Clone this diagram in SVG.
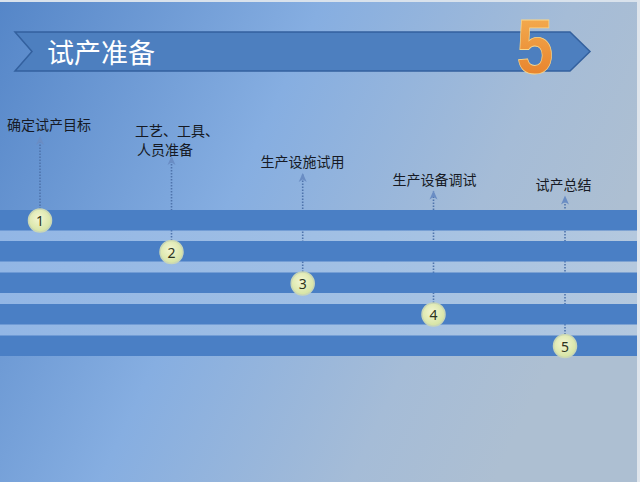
<svg xmlns="http://www.w3.org/2000/svg" width="640" height="482" viewBox="0 0 640 482">
<defs>
<linearGradient id="bg" x1="0" y1="0" x2="1" y2="0.35">
<stop offset="0" stop-color="#5586c8"/>
<stop offset="0.45" stop-color="#86aee1"/>
<stop offset="0.8" stop-color="#a5bcd7"/>
<stop offset="1" stop-color="#adbfd2"/>
</linearGradient>
<linearGradient id="band" x1="0" y1="0" x2="1" y2="0">
<stop offset="0" stop-color="#92b6e5"/>
<stop offset="0.6" stop-color="#a3c1e4"/>
<stop offset="1" stop-color="#b4c8de"/>
</linearGradient>
<linearGradient id="five" x1="0" y1="0" x2="0" y2="1">
<stop offset="0" stop-color="#f6b456"/>
<stop offset="1" stop-color="#e57b26"/>
</linearGradient>
<radialGradient id="dot" cx="0.45" cy="0.4" r="0.6">
<stop offset="0" stop-color="#f3f6d2"/>
<stop offset="1" stop-color="#d5e3a2"/>
</radialGradient>
<marker id="arr" viewBox="0 0 10 10" refX="8" refY="5" markerWidth="10" markerHeight="10" markerUnits="userSpaceOnUse" orient="auto">
<path d="M0,1 L9,5 L0,9 L2.5,5 Z" fill="#6a8dc4"/>
</marker>
<style>
.lbl{font-family:"Noto Sans CJK SC","Noto Sans",sans-serif;font-size:14px;fill:#161a24;dominant-baseline:central}
.num{font-family:"Noto Sans","Liberation Sans",sans-serif;font-size:14px;fill:#2e3420;text-anchor:middle;dominant-baseline:central}
.stripe{fill:#4a7fc5}
.conn{stroke:#4f74ac;stroke-width:1.6;stroke-dasharray:1.6 1.4;fill:none;marker-end:url(#arr)}
.circ{fill:url(#dot);stroke:#c9d6b6;stroke-width:1.5}
</style>
</defs>
<rect x="0" y="0" width="640" height="482" fill="url(#bg)"/>
<rect x="0" y="0" width="640" height="2" fill="#d9e2ec"/>
<rect x="637" y="0" width="3" height="482" fill="#dfe5ec"/>
<rect x="0" y="230" width="637" height="106" fill="url(#band)"/>
<g id="banner">
<polygon points="15,32 570,32 590,51.5 570,71 15,71 32,51.5" fill="#4d7fbf" stroke="#33609e" stroke-width="1.5"/>
<text x="47" y="51" style="font-family:'Noto Sans CJK SC',sans-serif;font-size:27px;fill:#ffffff;dominant-baseline:central">试产准备</text>
<text transform="translate(535,73) scale(0.85,1)" text-anchor="middle" style="font-family:'Liberation Sans',Arial,sans-serif;font-size:78px;font-weight:bold;fill:url(#five);stroke:#f7d58a;stroke-width:0.8">5</text>
</g>
<g id="connectors">
<line class="conn" x1="40" y1="209" x2="40" y2="137"/>
<line class="conn" x1="171.5" y1="240.5" x2="171.5" y2="157"/>
<line class="conn" x1="302.7" y1="272" x2="302.7" y2="174"/>
<line class="conn" x1="433.5" y1="303" x2="433.5" y2="191.5"/>
<line class="conn" x1="565" y1="334.5" x2="565" y2="196.5"/>
</g>
<g id="stripes">
<rect class="stripe" x="0" y="210" width="637" height="20.5"/>
<rect class="stripe" x="0" y="241" width="637" height="20.5"/>
<rect class="stripe" x="0" y="272.5" width="637" height="20.5"/>
<rect class="stripe" x="0" y="304" width="637" height="20.5"/>
<rect class="stripe" x="0" y="335.5" width="637" height="20.5"/>
</g>
<g id="step1">
<circle class="circ" cx="40" cy="220.5" r="11.5"/>
<text class="num" x="40" y="220.5">1</text>
<text class="lbl" x="7" y="124">确定试产目标</text>
</g>
<g id="step2">
<circle class="circ" cx="171.5" cy="252" r="11.5"/>
<text class="num" x="171.5" y="252">2</text>
<text class="lbl" x="135" y="130">工艺、工具、</text>
<text class="lbl" x="137" y="149">人员准备</text>
</g>
<g id="step3">
<circle class="circ" cx="302.7" cy="283.5" r="11.5"/>
<text class="num" x="302.7" y="283.5">3</text>
<text class="lbl" x="302.5" y="161" text-anchor="middle">生产设施试用</text>
</g>
<g id="step4">
<circle class="circ" cx="433.5" cy="314.5" r="11.5"/>
<text class="num" x="433.5" y="314.5">4</text>
<text class="lbl" x="434.5" y="179" text-anchor="middle">生产设备调试</text>
</g>
<g id="step5">
<circle class="circ" cx="565" cy="346" r="11.5"/>
<text class="num" x="565" y="346">5</text>
<text class="lbl" x="563.5" y="183.5" text-anchor="middle">试产总结</text>
</g>
</svg>
